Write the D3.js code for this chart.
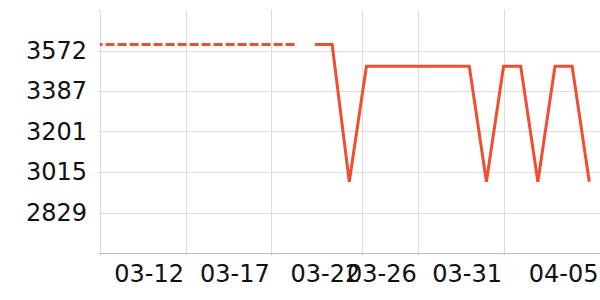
<!DOCTYPE html>
<html lang="en">
<head>
    <meta charset="UTF-8">
    <title>line chart</title>
    <script src="https://cdn.jsdelivr.net/npm/d3@7"></script>
    <style>
        body { margin: 0; background: #fff; }
        text { font-family: "DejaVu Sans", sans-serif; }
    </style>
</head>
<body>
    <script>
        // dashed reference level before the data starts
        var dashDates = ["2024-03-07T02:00Z", "2024-03-18T20:00Z"];
        var dashValues = [3600, 3600];

        // daily values
        var dates = ["2024-03-20", "2024-03-21", "2024-03-22", "2024-03-23", "2024-03-24",
                     "2024-03-25", "2024-03-26", "2024-03-27", "2024-03-28", "2024-03-29",
                     "2024-03-30", "2024-03-31", "2024-04-01", "2024-04-02", "2024-04-03",
                     "2024-04-04", "2024-04-05"];
        var values = [3600, 3600, 2970, 3500, 3500,
                      3500, 3500, 3500, 3500, 3500,
                      2970, 3500, 3500, 2970, 3500,
                      3500, 2970];

        var xDomain = ["2024-03-07T11:00Z", "2024-04-05T15:00Z"];
        var xTicks = ["2024-03-12T10:45Z", "2024-03-17T10:40Z", "2024-03-22T17:25Z",
                      "2024-03-26T00:40Z", "2024-03-31T00:00Z", "2024-04-05T15:00Z"];
        var xTickLabels = ["03-12", "03-17", "03-22", "03-26", "03-31", "04-05"];

        var yDomain = [2643.5, 3758];
        var yTicks = [2829, 3015, 3201, 3387, 3572];

        var w = 600;
        var h = 300;
        var margin = {top: 10, right: 0, bottom: 47, left: 100};

        var parse = d3.utcParse("%Y-%m-%d");
        var iso = d3.isoParse;

        var svg = d3.select("body").append("svg")
            .attr("width", w)
            .attr("height", h);

        var x = d3.scaleUtc()
            .domain(xDomain.map(iso))
            .range([margin.left, w - margin.right]);

        var y = d3.scaleLinear()
            .domain(yDomain)
            .range([h - margin.bottom, margin.top]);

        // grid
        svg.append("g").selectAll("line").data(yTicks).enter().append("line")
            .attr("x1", margin.left)
            .attr("x2", w - margin.right)
            .attr("y1", function(d) { return Math.round(y(d)) + 0.5; })
            .attr("y2", function(d) { return Math.round(y(d)) + 0.5; })
            .attr("stroke", "#dcdcdc");

        svg.append("g").selectAll("line").data(xTicks).enter().append("line")
            .attr("x1", function(d) { return Math.round(x(iso(d))) + 0.5; })
            .attr("x2", function(d) { return Math.round(x(iso(d))) + 0.5; })
            .attr("y1", margin.top)
            .attr("y2", h - margin.bottom)
            .attr("stroke", "#dcdcdc");

        // axes
        var yAxis = svg.append("g")
            .attr("transform", "translate(" + margin.left + ",0)")
            .call(d3.axisLeft(y).tickValues(yTicks).tickSize(2).tickPadding(11)
                .tickFormat(function(d) { return d; }));
        yAxis.select(".domain").attr("stroke", "#dcdcdc");
        yAxis.selectAll(".tick line").attr("stroke", "#dcdcdc");
        yAxis.selectAll("text").attr("font-size", "24px").attr("fill", "#111");

        var xAxis = svg.append("g")
            .attr("transform", "translate(0," + (h - margin.bottom) + ")")
            .call(d3.axisBottom(x).tickValues(xTicks.map(iso)).tickSize(2).tickPadding(10)
                .tickFormat(function(d, i) { return xTickLabels[i]; }));
        xAxis.select(".domain").attr("stroke", "#bbb");
        xAxis.selectAll(".tick line").attr("stroke", "#bbb");
        xAxis.selectAll("text")
            .attr("font-size", "24px")
            .attr("fill", "#111")
            .attr("text-anchor", "end")
            .attr("dx", -2);

        // clip to plot area
        svg.append("clipPath").attr("id", "clip")
            .append("rect")
            .attr("x", margin.left)
            .attr("y", margin.top)
            .attr("width", w - margin.left - margin.right)
            .attr("height", h - margin.top - margin.bottom);

        var line = d3.line()
            .x(function(d) { return x(d[0]); })
            .y(function(d) { return y(d[1]); });

        var dashData = dashDates.map(function(d, i) { return [iso(d), dashValues[i]]; });
        var solidData = dates.map(function(d, i) { return [parse(d), values[i]]; });

        var g = svg.append("g").attr("clip-path", "url(#clip)");

        g.append("path")
            .datum(dashData)
            .attr("d", line)
            .attr("fill", "none")
            .attr("stroke", "#f04e30")
            .attr("stroke-width", 3)
            .attr("stroke-dasharray", "9,3");

        g.append("path")
            .datum(solidData)
            .attr("d", line)
            .attr("fill", "none")
            .attr("stroke", "#f04e30")
            .attr("stroke-width", 3);
    </script>
</body>
</html>
